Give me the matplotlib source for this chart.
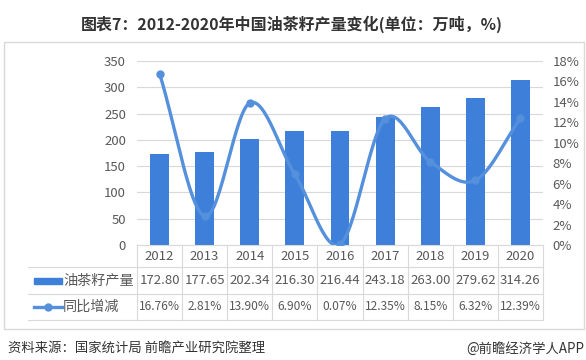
import matplotlib
matplotlib.use("Agg")
import matplotlib.pyplot as plt
import matplotlib.transforms as mtransforms
from matplotlib.patches import Rectangle
from matplotlib.lines import Line2D
import numpy as np

plt.rcParams['font.family'] = ['Noto Sans CJK SC', 'DejaVu Sans']

years = ['2012', '2013', '2014', '2015', '2016', '2017', '2018', '2019', '2020']
output = [172.80, 177.65, 202.34, 216.30, 216.44, 243.18, 263.00, 279.62, 314.26]
growth = [16.76, 2.81, 13.90, 6.90, 0.07, 12.35, 8.15, 6.32, 12.39]
output_labels = ['172.80', '177.65', '202.34', '216.30', '216.44', '243.18', '263.00', '279.62', '314.26']
growth_labels = ['16.76%', '2.81%', '13.90%', '6.90%', '0.07%', '12.35%', '8.15%', '6.32%', '12.39%']
series_names = ['油茶籽产量', '同比增减']
title = '图表7：2012-2020年中国油茶籽产量变化(单位：万吨，%)'
source = '资料来源：国家统计局 前瞻产业研究院整理'
brand = '@前瞻经济学人APP'

W, H = 586, 360
fig = plt.figure(figsize=(W / 100, H / 100), dpi=100)
fig.patch.set_facecolor('white')

def fx(px):
    return px / W

def fy(py):
    return 1 - py / H

# outer box
fig.patches.append(Rectangle((fx(4), fy(329)), fx(584) - fx(4), fy(42) - fy(329),
                             transform=fig.transFigure, fill=False, edgecolor='#d9d9d9', lw=1))

fig.text(fx(292), fy(24), title, ha='center', va='center', fontsize=11.5,
         fontweight='bold', color='#333333')
fig.text(fx(8), fy(349), source, ha='left', va='center', fontsize=9.6, color='#333333')
fig.text(fx(584), fy(349), brand, ha='right', va='center', fontsize=9.6, color='#333333')

L, R, T, B = 137, 543, 61, 245
ax = fig.add_axes([fx(L), fy(B), fx(R) - fx(L), fy(T) - fy(B)])
n = len(years)
x = np.arange(n)
bar_color = '#3d7fd9'
line_color = '#5590dc'
grid_color = '#d9d9d9'
text_color = '#595959'
fs = 9.5

ax.bar(x, output, width=0.42, color=bar_color, zorder=2)
ax.set_xlim(-0.5, n - 0.5)
ax.set_ylim(0, 350)
ax.set_yticks(np.arange(0, 351, 50))
ax.yaxis.grid(True, color=grid_color, lw=0.8, zorder=0)
ax.set_axisbelow(True)
ax.set_xticks([])
for s in ['left', 'right', 'top']:
    ax.spines[s].set_visible(False)
ax.spines['bottom'].set_color(grid_color)
ax.tick_params(axis='y', length=0, pad=8, labelsize=fs, labelcolor=text_color)

ax2 = ax.twinx()
ax2.set_ylim(0, 18)
ax2.set_yticks(np.arange(0, 19, 2))
ax2.set_yticklabels([f'{v}%' for v in range(0, 19, 2)])
for s in ['left', 'right', 'top', 'bottom']:
    ax2.spines[s].set_visible(False)
ax2.tick_params(axis='y', length=0, pad=7, labelsize=fs, labelcolor=text_color)

# smooth display curve through the data points (Catmull-Rom)
def smooth(xs, ys, steps=30):
    xs = np.asarray(xs, float)
    ys = np.asarray(ys, float)
    px = np.concatenate([[2 * xs[0] - xs[1]], xs, [2 * xs[-1] - xs[-2]]])
    py = np.concatenate([[2 * ys[0] - ys[1]], ys, [2 * ys[-1] - ys[-2]]])
    ox, oy = [], []
    for i in range(1, len(px) - 2):
        t = np.linspace(0, 1, steps, endpoint=False)
        for arr, out in ((px, ox), (py, oy)):
            p0, p1, p2, p3 = arr[i - 1], arr[i], arr[i + 1], arr[i + 2]
            out.extend(0.5 * ((2 * p1) + (-p0 + p2) * t +
                              (2 * p0 - 5 * p1 + 4 * p2 - p3) * t ** 2 +
                              (-p0 + 3 * p1 - 3 * p2 + p3) * t ** 3))
    ox.append(xs[-1])
    oy.append(ys[-1])
    return np.array(ox), np.array(oy)

sx, sy = smooth(x, growth)
ax2.plot(sx, sy, color=line_color, lw=2.4, zorder=3, solid_capstyle='round')
ax2.plot(x, growth, 'o', color=line_color, ms=5, zorder=4)

# data table below the plot
tr = mtransforms.blended_transform_factory(ax.transData, ax.transAxes)
plot_h = B - T
def ay(py):
    return (B - py) / plot_h

row_lines = [267, 294, 320]
x_left = -0.5 + (28 - L) / ((R - L) / n)
for py in row_lines:
    ax.add_line(Line2D([x_left, n - 0.5], [ay(py), ay(py)], transform=tr,
                       color=grid_color, lw=0.8, clip_on=False))
for k in range(n + 1):
    ax.add_line(Line2D([k - 0.5, k - 0.5], [ay(B), ay(320)], transform=tr,
                       color=grid_color, lw=0.8, clip_on=False))

row_centers = [256, 281, 307]
for i in range(n):
    ax.text(i, ay(row_centers[0]), years[i], transform=tr, ha='center', va='center',
            fontsize=fs, color=text_color, clip_on=False)
    ax.text(i, ay(row_centers[1]), output_labels[i], transform=tr, ha='center', va='center',
            fontsize=fs, color=text_color, clip_on=False)
    ax.text(i, ay(row_centers[2]), growth_labels[i], transform=tr, ha='center', va='center',
            fontsize=8.6, color=text_color, clip_on=False)

# legend keys in the table
col_w = (R - L) / n
def dx(px):
    return -0.5 + (px - L) / col_w
ax.add_patch(Rectangle((dx(34), ay(row_centers[1]) - 0.016), dx(62) - dx(34), 0.032,
                       transform=tr, color=bar_color, clip_on=False))
ax.add_line(Line2D([dx(34), dx(62)], [ay(row_centers[2])] * 2, transform=tr,
                   color=line_color, lw=2.4, clip_on=False))
ax.add_line(Line2D([dx(48)], [ay(row_centers[2])], transform=tr, marker='o', ms=5,
                   color=line_color, clip_on=False))
ax.text(dx(63), ay(row_centers[1]), series_names[0], transform=tr, ha='left', va='center',
        fontsize=10.2, color=text_color, clip_on=False)
ax.text(dx(63), ay(row_centers[2]), series_names[1], transform=tr, ha='left', va='center',
        fontsize=10.2, color=text_color, clip_on=False)

fig.savefig('out.png', dpi=100, facecolor='white')
